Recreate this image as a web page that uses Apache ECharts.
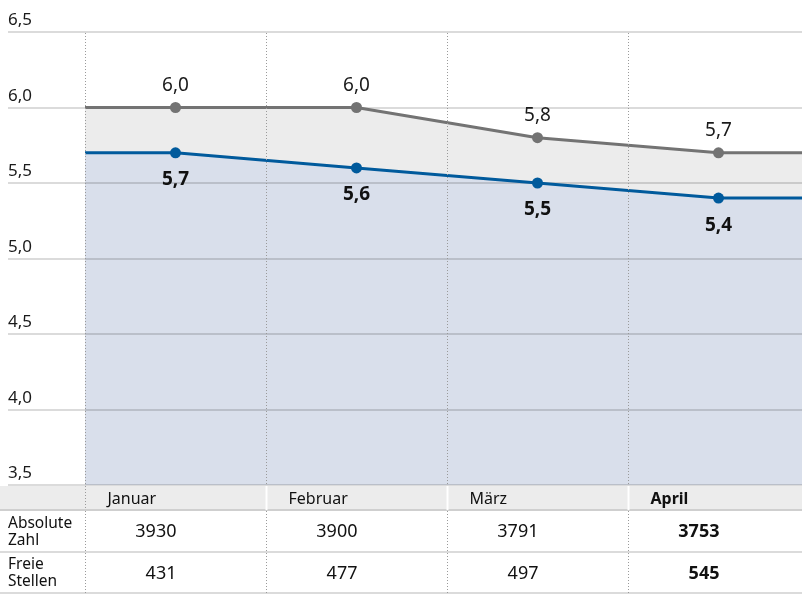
<!DOCTYPE html>
<html><head><meta charset="utf-8">
<script src="https://cdn.jsdelivr.net/npm/echarts@6/dist/echarts.min.js"></script>
<style>html,body{margin:0;padding:0;background:#fff}#c{width:802px;height:596px}</style>
</head><body><div id="c"></div><script>
// ---- data ----
const months = ['Januar', 'Februar', 'März', 'April'];
const quoteGray = [6.0, 6.0, 5.8, 5.7];
const quoteBlue = [5.7, 5.6, 5.5, 5.4];
const absoluteZahl = [3930, 3900, 3791, 3753];
const freieStellen = [431, 477, 497, 545];
const rowLabels = ['Absolute\nZahl', 'Freie\nStellen'];
const yMin = 3.5, yMax = 6.5, yStep = 0.5;
const highlight = 3; // latest month shown bold

// ---- layout / style ----
const FONT = 'Noto Sans';
const GRAY_LINE = '#737373', BLUE_LINE = '#005a9c';
const GRAY_AREA = '#ececec', BLUE_AREA = '#d9dfeb';
const gridL = 8, plotL = 85, W = 802;
const colW = 181;
const xMin = -0.5 - (plotL - gridL) / colW;
const xMax = xMin + (W - gridL) / colW;
const fmt = v => v.toFixed(1).replace('.', ',');

function extended(vals) {
  const n = vals.length;
  const d = [{ value: [-0.5, vals[0]], symbol: 'none', label: { show: false } }];
  vals.forEach((v, i) => d.push({ value: [i, v] }));
  d.push({ value: [xMax, vals[n - 1]], symbol: 'none', label: { show: false } });
  return d;
}

const chart = echarts.init(document.getElementById('c'), null, { renderer: 'canvas' });
chart.setOption({
  animation: false,
  textStyle: { fontFamily: FONT },
  grid: { left: gridL, right: 0, top: 32, bottom: 111, containLabel: false },
  xAxis: { type: 'value', min: xMin, max: xMax, show: false },
  yAxis: {
    type: 'value', min: yMin, max: yMax, interval: yStep, z: 2,
    axisLine: { show: false }, axisTick: { show: false },
    splitLine: { lineStyle: { color: 'rgba(0,0,0,0.19)', width: 1.5 } },
    axisLabel: {
      inside: true, margin: 0, align: 'left', verticalAlign: 'bottom',
      padding: [0, 0, 3, 0], fontSize: 17, color: '#1a1a1a', fontFamily: FONT,
      formatter: v => fmt(v)
    }
  },
  series: [
    { type: 'line', z: 1, data: extended(quoteGray), symbol: 'none', silent: true,
      lineStyle: { width: 0 }, areaStyle: { color: GRAY_AREA, opacity: 1, origin: 'start' } },
    { type: 'line', z: 1, data: extended(quoteBlue), symbol: 'none', silent: true,
      lineStyle: { width: 0 }, areaStyle: { color: BLUE_AREA, opacity: 1, origin: 'start' } },
    { type: 'line', z: 3, data: extended(quoteGray), symbol: 'circle', symbolSize: 11,
      itemStyle: { color: GRAY_LINE }, lineStyle: { color: GRAY_LINE, width: 3 },
      label: { show: true, position: 'top', distance: 7, fontSize: 19, color: '#1a1a1a',
               fontFamily: FONT, formatter: p => fmt(p.value[1]) } },
    { type: 'line', z: 3, data: extended(quoteBlue), symbol: 'circle', symbolSize: 11,
      itemStyle: { color: BLUE_LINE }, lineStyle: { color: BLUE_LINE, width: 3 },
      label: { show: true, position: 'bottom', distance: 12, fontSize: 19, fontWeight: 'bold',
               color: '#111', fontFamily: FONT, formatter: p => fmt(p.value[1]) } }
  ]
});

// ---- table + vertical separators, positioned via the x axis scale ----
const px = v => chart.convertToPixel({ xAxisIndex: 0 }, v);
const py = v => chart.convertToPixel({ yAxisIndex: 0 }, v);
const yTop = py(yMax), yBot = py(yMin);
const g = [];
const headTop = yBot + 1, headBot = 510, row1Bot = 552, row2Bot = 593;
g.push({ type: 'rect', z: 1, shape: { x: 0, y: headTop, width: W, height: headBot - headTop }, style: { fill: '#ececec' } });
const dot = { stroke: '#9a9a9a', lineWidth: 1, lineDash: [1, 2] };
months.forEach((m, i) => {
  const bx = Math.round(px(i - 0.5)) + 0.5;
  g.push({ type: 'line', z: 5, shape: { x1: bx, y1: yTop + 1, x2: bx, y2: yBot }, style: dot });
  g.push({ type: 'line', z: 5, shape: { x1: bx, y1: headBot + 1, x2: bx, y2: row2Bot }, style: dot });
  if (i === 0) {
    g.push({ type: 'line', z: 5, shape: { x1: bx, y1: headTop, x2: bx, y2: headBot }, style: dot });
  } else {
    g.push({ type: 'rect', z: 5, shape: { x: bx - 1, y: headTop, width: 2, height: headBot - headTop }, style: { fill: '#fff' } });
  }
  const bold = i === highlight ? 'bold' : 'normal';
  g.push({ type: 'text', z: 6, x: bx + 22, y: (headTop + headBot) / 2 + 1,
    style: { text: m, font: bold + ' 16px "' + FONT + '"', fill: '#111', verticalAlign: 'middle', align: 'left' } });
  const cx = px(i) + 1;
  g.push({ type: 'text', z: 6, x: cx, y: (headBot + row1Bot) / 2 + 1,
    style: { text: String(absoluteZahl[i]), font: bold + ' 18px "' + FONT + '"', fill: '#111', verticalAlign: 'middle', align: 'right' } });
  g.push({ type: 'text', z: 6, x: cx, y: (row1Bot + row2Bot) / 2 + 1,
    style: { text: String(freieStellen[i]), font: bold + ' 18px "' + FONT + '"', fill: '#111', verticalAlign: 'middle', align: 'right' } });
});
[[headBot, 2], [row1Bot, 1.5], [row2Bot, 1.5]].forEach(([y, w]) => {
  g.push({ type: 'line', z: 4, shape: { x1: 0, y1: y, x2: W, y2: y }, style: { stroke: '#cfcfcf', lineWidth: w } });
});
[[headBot, row1Bot], [row1Bot, row2Bot]].forEach(([a, b], r) => {
  g.push({ type: 'text', z: 6, x: 8, y: (a + b) / 2 + 1,
    style: { text: rowLabels[r], font: '15.5px "' + FONT + '"', lineHeight: 17, fill: '#111', verticalAlign: 'middle', align: 'left' } });
});
chart.setOption({ graphic: { elements: g } });
</script></body></html>
